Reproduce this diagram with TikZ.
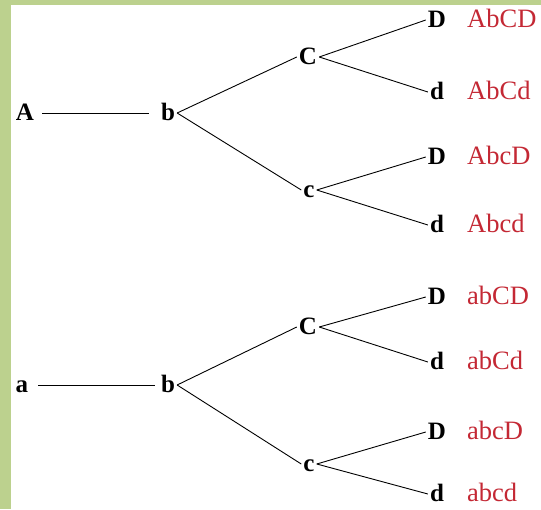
\documentclass[tikz,border=0pt]{standalone}
\usepackage{fontspec}
\setmainfont{Liberation Serif}
\definecolor{framegreen}{RGB}{188,209,142}
\definecolor{labelred}{RGB}{196,40,52}
\begin{document}
\begin{tikzpicture}[x=1pt,y=1pt,
  allele/.style={font=\fontsize{25}{29}\selectfont\bfseries, inner sep=2pt, text height=16pt, text depth=1pt},
  geno/.style={font=\fontsize{26.5}{30}\selectfont, text=labelred, anchor=west, inner sep=0pt, text height=16pt, text depth=1pt},
  branch/.style={line width=0.9pt}]
\fill[framegreen] (0,0) rectangle (541,509);
\fill[white] (11,0) rectangle (541,504);
\useasboundingbox (0,0) rectangle (541,509);
% upper tree
\node[allele] (A) at (25,396) {A};
\node[allele] (b1) at (168,396) {b};
\node[allele] (C1) at (308,452) {C};
\node[allele] (c1) at (309,319) {c};
\node[allele] (D1) at (437,489) {D};
\node[allele] (d1) at (437,417) {d};
\node[allele] (D2) at (437,352) {D};
\node[allele] (d2) at (437,284) {d};
\node[geno] (g1) at (467,489) {AbCD};
\node[geno] (g2) at (467,417) {AbCd};
\node[geno] (g3) at (467,352) {AbcD};
\node[geno] (g4) at (467,284) {Abcd};
\draw[branch, shorten <=6pt, shorten >=10pt] (A) -- (b1);
\draw[branch] (b1.east) -- (C1.west);
\draw[branch] (b1.east) -- (c1.west);
\draw[branch] (C1.east) -- (D1.west);
\draw[branch] (C1.east) -- (d1.west);
\draw[branch] (c1.east) -- (D2.west);
\draw[branch] (c1.east) -- (d2.west);
% lower tree
\node[allele] (a) at (22,124) {a};
\node[allele] (b2) at (168,124) {b};
\node[allele] (C2) at (308,182) {C};
\node[allele] (c2) at (309,45) {c};
\node[allele] (D3) at (437,212) {D};
\node[allele] (d3) at (437,147) {d};
\node[allele] (D4) at (437,77) {D};
\node[allele] (d4) at (437,15) {d};
\node[geno] (g5) at (467,212) {abCD};
\node[geno] (g6) at (467,147) {abCd};
\node[geno] (g7) at (467,77) {abcD};
\node[geno] (g8) at (467,15) {abcd};
\draw[branch, shorten <=8pt, shorten >=4pt] (a) -- (b2);
\draw[branch] (b2.east) -- (C2.west);
\draw[branch] (b2.east) -- (c2.west);
\draw[branch] (C2.east) -- (D3.west);
\draw[branch] (C2.east) -- (d3.west);
\draw[branch] (c2.east) -- (D4.west);
\draw[branch] (c2.east) -- (d4.west);
\end{tikzpicture}
\end{document}
